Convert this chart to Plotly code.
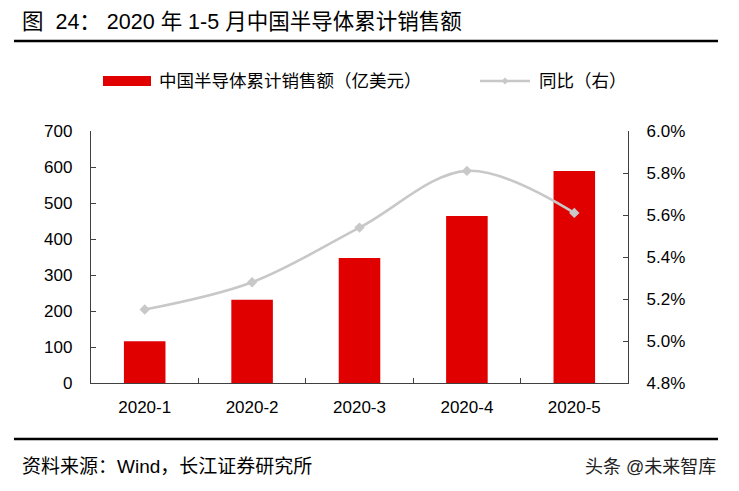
import plotly.graph_objects as go

categories = ["2020-1", "2020-2", "2020-3", "2020-4", "2020-5"]
sales = [116, 231, 347, 464, 589]          # 亿美元
yoy = [5.15, 5.28, 5.54, 5.81, 5.61]        # %

title_text = "图\u00a0 24：\u00a02020 年 1-5 月中国半导体累计销售额"
bar_name = "中国半导体累计销售额（亿美元）"
line_name = "同比（右）"
source_text = "资料来源：Wind，长江证券研究所"
watermark = "头条 @未来智库"

W, H = 739, 491
L, R, T, B = 91, 628, 131, 383
FONT = "Liberation Sans, Arial, Noto Sans CJK SC, sans-serif"
RED = "#E00000"
GRAY = "#C8C8C8"
AX = "#404040"


def px(x):
    return (x - L) / (R - L)


def py(y):
    return (B - y) / (B - T)


fig = go.Figure()
fig.add_trace(go.Bar(x=categories, y=sales, name=bar_name, marker_color=RED,
                     marker_line_width=0, width=0.387, showlegend=False))
fig.add_trace(go.Scatter(x=categories, y=yoy, name=line_name, yaxis="y2",
                         mode="lines+markers",
                         line=dict(color=GRAY, width=2.6, shape="spline", smoothing=1.0),
                         marker=dict(symbol="diamond", size=8, color=GRAY),
                         showlegend=False))

shapes = [
    dict(type="line", xref="paper", yref="paper", x0=px(14), x1=px(718), y0=py(41), y1=py(41),
         line=dict(color="#000000", width=2.5)),
    dict(type="line", xref="paper", yref="paper", x0=px(14), x1=px(718), y0=py(439), y1=py(439),
         line=dict(color="#000000", width=2.5)),
    dict(type="rect", xref="paper", yref="paper", x0=px(103), x1=px(151), y0=py(86), y1=py(76),
         fillcolor=RED, line_width=0),
    dict(type="line", xref="paper", yref="paper", x0=px(480), x1=px(530), y0=py(81), y1=py(81),
         line=dict(color=GRAY, width=2.6)),
    dict(type="path", xref="paper", yref="paper",
         path=f"M {px(505)},{py(77.5)} L {px(508.5)},{py(81)} L {px(505)},{py(84.5)} L {px(501.5)},{py(81)} Z",
         fillcolor=GRAY, line_width=0),
]

annotations = [
    dict(text=title_text, x=px(20), y=py(22), xref="paper", yref="paper", xanchor="left",
         yanchor="middle", showarrow=False, font=dict(size=21.5, color="#000000", family=FONT)),
    dict(text=bar_name, x=px(157), y=py(81), xref="paper", yref="paper", xanchor="left",
         yanchor="middle", showarrow=False, font=dict(size=17.5, color="#000000", family=FONT)),
    dict(text=line_name, x=px(537), y=py(81), xref="paper", yref="paper", xanchor="left",
         yanchor="middle", showarrow=False, font=dict(size=17.5, color="#000000", family=FONT)),
    dict(text=source_text, x=px(20), y=py(466), xref="paper", yref="paper", xanchor="left",
         yanchor="middle", showarrow=False, font=dict(size=19, color="#000000", family=FONT)),
    dict(text=watermark, x=px(718), y=py(467), xref="paper", yref="paper", xanchor="right",
         yanchor="middle", showarrow=False, font=dict(size=18, color="#222222", family=FONT)),
]

fig.update_layout(
    width=W, height=H,
    margin=dict(l=L, r=W - R, t=T, b=H - B, pad=0),
    paper_bgcolor="white", plot_bgcolor="white",
    font=dict(family=FONT, size=17, color="#000000"),
    showlegend=False,
    bargap=0.6,
    xaxis=dict(type="category", range=[-0.5, 4.5], showline=True, linecolor=AX, linewidth=1.3,
               ticks="inside", ticklen=5, tickcolor=AX, tickson="boundaries",
               showgrid=False, ticklabelstandoff=8, tickfont=dict(size=17)),
    yaxis=dict(range=[0, 700], dtick=100, showline=True, linecolor=AX, linewidth=1.3,
               ticks="inside", ticklen=5, tickcolor=AX, showgrid=False, zeroline=False,
               ticklabelstandoff=14, tickfont=dict(size=17)),
    yaxis2=dict(range=[4.8, 6.0], dtick=0.2, overlaying="y", side="right", showline=True,
                linecolor=AX, linewidth=1.3, ticks="inside", ticklen=5, tickcolor=AX,
                tickformat=".1f", ticksuffix="%", showgrid=False, zeroline=False,
                ticklabelstandoff=14, tickfont=dict(size=17)),
    shapes=shapes,
    annotations=annotations,
)

fig.write_html("out.html", config={"displayModeBar": False},
               post_script="document.body.style.margin='0';")
